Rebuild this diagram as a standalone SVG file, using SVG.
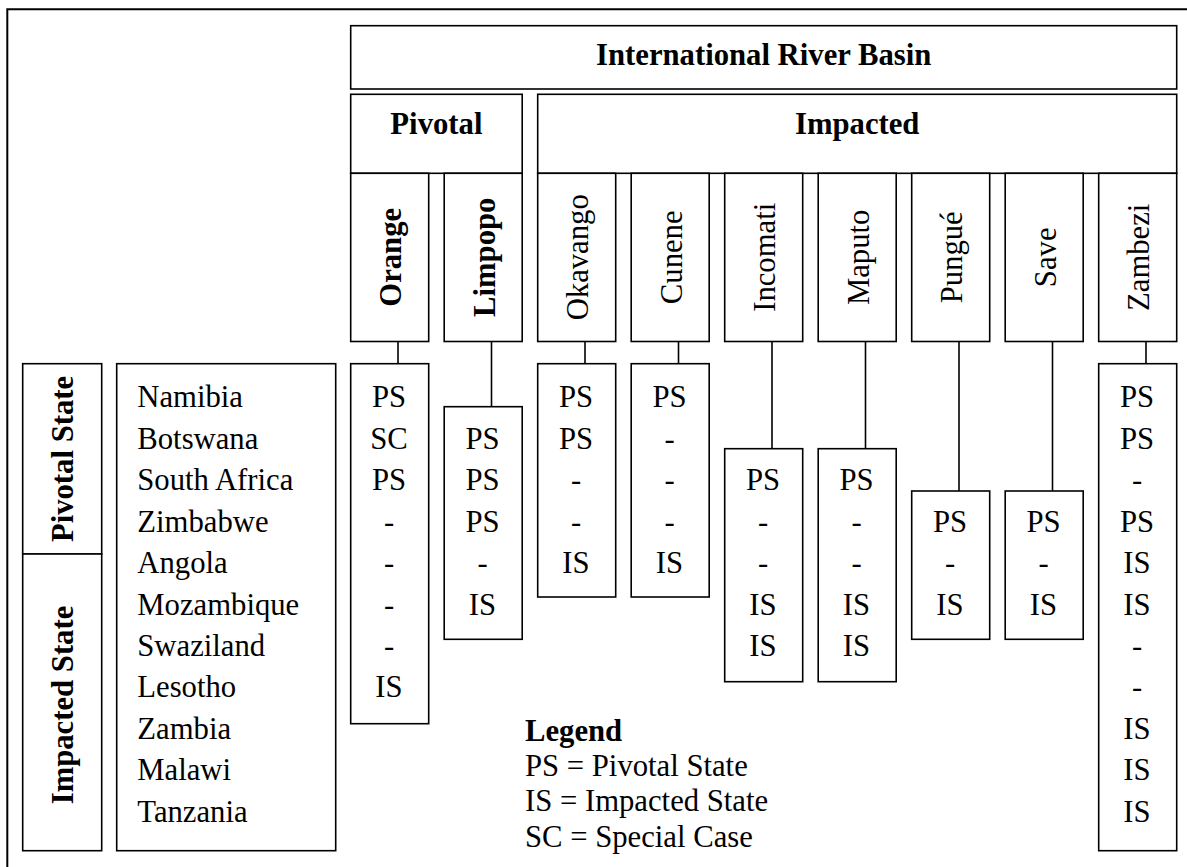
<svg xmlns="http://www.w3.org/2000/svg" width="1187" height="867" viewBox="0 0 1187 867">
<style>
.bx{fill:#fff;stroke:#000;stroke-width:1.6}
.ln{fill:none;stroke:#000;stroke-width:1.6}
text{font-family:"Liberation Serif","Times New Roman",serif;font-size:30.7px;fill:#000}
.b{font-weight:bold}
.m{text-anchor:middle}
</style>
<rect width="1187" height="867" fill="#fff"/>
<path d="M7.3 867 V9.3 H1187" fill="none" stroke="#000" stroke-width="2"/>
<g id="connectors">
<line class="ln" x1="398" y1="341.5" x2="398" y2="363.7"/>
<line class="ln" x1="491.5" y1="341.5" x2="491.5" y2="406.7"/>
<line class="ln" x1="585" y1="341.5" x2="585" y2="363.7"/>
<line class="ln" x1="678.5" y1="341.5" x2="678.5" y2="363.7"/>
<line class="ln" x1="772" y1="341.5" x2="772" y2="448.7"/>
<line class="ln" x1="865.5" y1="341.5" x2="865.5" y2="448.7"/>
<line class="ln" x1="959" y1="341.5" x2="959" y2="491"/>
<line class="ln" x1="1052.5" y1="341.5" x2="1052.5" y2="491"/>
<line class="ln" x1="1146" y1="341.5" x2="1146" y2="363.7"/>
</g>
<g id="basin"><rect class="bx" x="350.7" y="25.7" width="826" height="63.3"/><text class="b m" x="763.7" y="65">International River Basin</text></g>
<g id="pivotal"><rect class="bx" x="350.7" y="94.3" width="171.5" height="79"/><text class="b m" x="436.4" y="134">Pivotal</text></g>
<g id="impacted"><rect class="bx" x="537.7" y="94.3" width="639" height="79"/><text class="b m" x="857.2" y="134">Impacted</text></g>
<g id="h-orange"><rect class="bx" x="350.7" y="173.3" width="78" height="168.2"/><text class="b m" transform="translate(401.2 257.3) rotate(-90)">Orange</text></g>
<g id="h-limpopo"><rect class="bx" x="444.2" y="173.3" width="78" height="168.2"/><text class="b m" transform="translate(494.7 257.3) rotate(-90)">Limpopo</text></g>
<g id="h-okavango"><rect class="bx" x="537.7" y="173.3" width="78" height="168.2"/><text class="m" transform="translate(588.2 257.3) rotate(-90)">Okavango</text></g>
<g id="h-cunene"><rect class="bx" x="631.2" y="173.3" width="78" height="168.2"/><text class="m" transform="translate(681.7 257.3) rotate(-90)">Cunene</text></g>
<g id="h-incomati"><rect class="bx" x="724.7" y="173.3" width="78" height="168.2"/><text class="m" transform="translate(775.2 257.3) rotate(-90)">Incomati</text></g>
<g id="h-maputo"><rect class="bx" x="818.2" y="173.3" width="78" height="168.2"/><text class="m" transform="translate(868.7 257.3) rotate(-90)">Maputo</text></g>
<g id="h-pungue"><rect class="bx" x="911.7" y="173.3" width="78" height="168.2"/><text class="m" transform="translate(962.2 257.3) rotate(-90)">Pungué</text></g>
<g id="h-save"><rect class="bx" x="1005.2" y="173.3" width="78" height="168.2"/><text class="m" transform="translate(1055.7 257.3) rotate(-90)">Save</text></g>
<g id="h-zambezi"><rect class="bx" x="1098.7" y="173.3" width="78" height="168.2"/><text class="m" transform="translate(1149.2 257.3) rotate(-90)">Zambezi</text></g>
<g id="pivotal-state"><rect class="bx" x="22.7" y="363.7" width="79" height="190.3"/><text class="b m" transform="translate(73 459) rotate(-90)">Pivotal State</text></g>
<g id="impacted-state"><rect class="bx" x="22.7" y="554" width="79" height="296.7"/><text class="b m" transform="translate(73 705) rotate(-90)">Impacted State</text></g>
<g id="countries"><rect class="bx" x="116.7" y="363.7" width="219" height="487"/>
<text x="137.3" y="407.3">Namibia</text>
<text x="137.3" y="448.7">Botswana</text>
<text x="137.3" y="490.2">South Africa</text>
<text x="137.3" y="531.6">Zimbabwe</text>
<text x="137.3" y="573.1">Angola</text>
<text x="137.3" y="614.5">Mozambique</text>
<text x="137.3" y="656">Swaziland</text>
<text x="137.3" y="697.4">Lesotho</text>
<text x="137.3" y="738.8">Zambia</text>
<text x="137.3" y="780.3">Malawi</text>
<text x="137.3" y="821.7">Tanzania</text>
</g>
<g id="v-orange" class="m"><rect class="bx" x="350.7" y="363.7" width="78" height="360"/>
<text class="m" x="389" y="407.3">PS</text><text class="m" x="389" y="448.7">SC</text><text class="m" x="389" y="490.2">PS</text><text class="m" x="389" y="531.6">-</text><text class="m" x="389" y="573.1">-</text><text class="m" x="389" y="614.5">-</text><text class="m" x="389" y="656">-</text><text class="m" x="389" y="697.4">IS</text>
</g>
<g id="v-limpopo"><rect class="bx" x="444.2" y="406.7" width="78" height="232.6"/>
<text class="m" x="482.5" y="448.7">PS</text><text class="m" x="482.5" y="490.2">PS</text><text class="m" x="482.5" y="531.6">PS</text><text class="m" x="482.5" y="573.1">-</text><text class="m" x="482.5" y="614.5">IS</text>
</g>
<g id="v-okavango"><rect class="bx" x="537.7" y="363.7" width="78" height="233.3"/>
<text class="m" x="576" y="407.3">PS</text><text class="m" x="576" y="448.7">PS</text><text class="m" x="576" y="490.2">-</text><text class="m" x="576" y="531.6">-</text><text class="m" x="576" y="573.1">IS</text>
</g>
<g id="v-cunene"><rect class="bx" x="631.2" y="363.7" width="78" height="233.3"/>
<text class="m" x="669.5" y="407.3">PS</text><text class="m" x="669.5" y="448.7">-</text><text class="m" x="669.5" y="490.2">-</text><text class="m" x="669.5" y="531.6">-</text><text class="m" x="669.5" y="573.1">IS</text>
</g>
<g id="v-incomati"><rect class="bx" x="724.7" y="448.7" width="78" height="233"/>
<text class="m" x="763" y="490.2">PS</text><text class="m" x="763" y="531.6">-</text><text class="m" x="763" y="573.1">-</text><text class="m" x="763" y="614.5">IS</text><text class="m" x="763" y="656">IS</text>
</g>
<g id="v-maputo"><rect class="bx" x="818.2" y="448.7" width="78" height="233"/>
<text class="m" x="856.5" y="490.2">PS</text><text class="m" x="856.5" y="531.6">-</text><text class="m" x="856.5" y="573.1">-</text><text class="m" x="856.5" y="614.5">IS</text><text class="m" x="856.5" y="656">IS</text>
</g>
<g id="v-pungue"><rect class="bx" x="911.7" y="491" width="78" height="148.3"/>
<text class="m" x="950" y="531.6">PS</text><text class="m" x="950" y="573.1">-</text><text class="m" x="950" y="614.5">IS</text>
</g>
<g id="v-save"><rect class="bx" x="1005.2" y="491" width="78" height="148.3"/>
<text class="m" x="1043.5" y="531.6">PS</text><text class="m" x="1043.5" y="573.1">-</text><text class="m" x="1043.5" y="614.5">IS</text>
</g>
<g id="v-zambezi"><rect class="bx" x="1098.7" y="363.7" width="78" height="487"/>
<text class="m" x="1137" y="407.3">PS</text><text class="m" x="1137" y="448.7">PS</text><text class="m" x="1137" y="490.2">-</text><text class="m" x="1137" y="531.6">PS</text><text class="m" x="1137" y="573.1">IS</text><text class="m" x="1137" y="614.5">IS</text><text class="m" x="1137" y="656">-</text><text class="m" x="1137" y="697.4">-</text><text class="m" x="1137" y="738.8">IS</text><text class="m" x="1137" y="780.3">IS</text><text class="m" x="1137" y="821.7">IS</text>
</g>
<g id="legend">
<text class="b" x="525" y="740.7">Legend</text>
<text x="525" y="776">PS = Pivotal State</text>
<text x="525" y="811.3">IS = Impacted State</text>
<text x="525" y="846.7">SC = Special Case</text>
</g>
</svg>
